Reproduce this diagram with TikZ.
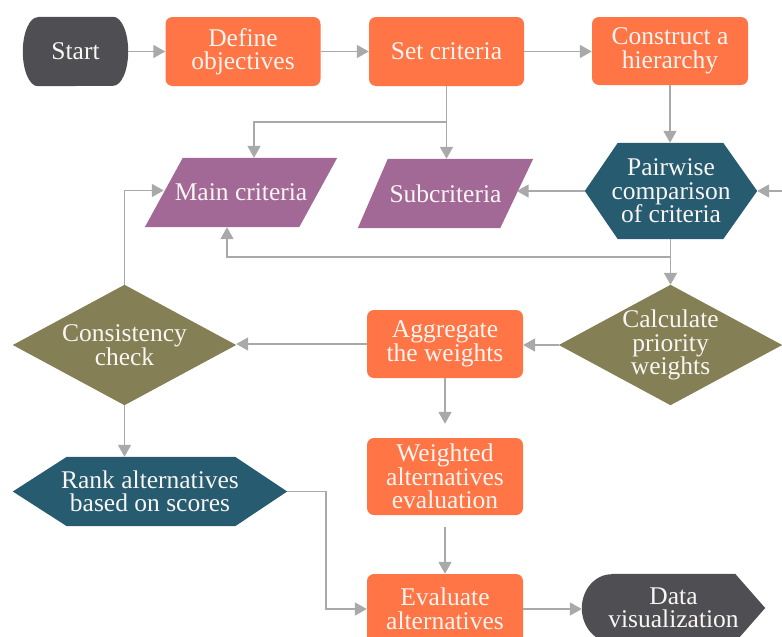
\documentclass[tikz,border=0pt]{standalone}
\usepackage{fontspec}
\setmainfont{Liberation Serif}
\usetikzlibrary{arrows.meta,backgrounds}

\definecolor{orng}{HTML}{FF7545}
\definecolor{dkgray}{HTML}{4E4E53}
\definecolor{purp}{HTML}{A26896}
\definecolor{tealc}{HTML}{265B70}
\definecolor{olive}{HTML}{857F55}
\definecolor{linec}{HTML}{A9A9A9}
\definecolor{txt}{HTML}{F8F5F2}

\tikzset{
  lbl/.style={text=txt, align=center, inner sep=0pt,
    font=\fontsize{25.5}{23.5}\selectfont},
  box/.style={lbl, fill=orng, rounded corners=7pt},
  arr/.style={draw=linec, line width=1.8pt,
    -{Triangle[length=12pt, width=13pt]}},
}

\begin{document}
\begin{tikzpicture}[x=1pt, y=-1pt]
\useasboundingbox (0,0) rectangle (782,637);
\clip (0,0) rectangle (782,637);

% ---- nodes (centre, width, height) ----
\node[lbl, minimum width=105, minimum height=69] (start) at (75.5,51.5) {Start};
\node[box, minimum width=155, minimum height=69] (def) at (243,51.5) {Define\\objectives};
\node[box, minimum width=155, minimum height=69] (setc) at (446.5,51.5) {Set criteria};
\node[box, minimum width=156, minimum height=68] (cons) at (670,51) {Construct a\\hierarchy};

\node[lbl, minimum width=192, minimum height=69] (main) at (241,192.5) {Main criteria};
\node[lbl, minimum width=175, minimum height=69] (sub) at (445.5,193.5) {Subcriteria};
\node[lbl, minimum width=172, minimum height=96] (pair) at (671,191) {Pairwise\\comparison\\of criteria};

\node[lbl, minimum width=223, minimum height=120] (calc) at (670.5,345) {Calculate\\priority\\weights};
\node[box, minimum width=156, minimum height=68] (agg) at (445,344) {Aggregate\\the weights};
\node[lbl, minimum width=223, minimum height=120] (chk) at (124.5,345) {Consistency\\check};

\node[lbl, minimum width=274, minimum height=69] (rank) at (150,491.5) {Rank alternatives\\based on scores};
\node[box, minimum width=156, minimum height=77] (wei) at (445,476.5) {Weighted\\alternatives\\evaluation};
\node[box, minimum width=156, minimum height=70] (eval) at (445,609) {Evaluate\\alternatives};
\node[lbl, minimum width=183, minimum height=68] (data) at (673.5,608) {Data\\visualization};

% ---- shape bodies behind the labels ----
\begin{scope}[on background layer]
  % terminator with curved sides
  \fill[dkgray] ([xshift=15pt]start.north west) -- ([xshift=-15pt]start.north east)
    arc[start angle=90, end angle=-90, x radius=15pt, y radius=34.5pt]
    -- ([xshift=15pt]start.south west)
    arc[start angle=270, end angle=90, x radius=15pt, y radius=34.5pt] -- cycle;
  % data (parallelograms)
  \fill[purp] ([xshift=38pt]main.north west) -- (main.north east)
    -- ([xshift=-38pt]main.south east) -- (main.south west) -- cycle;
  \fill[purp] ([xshift=30pt]sub.north west) -- (sub.north east)
    -- ([xshift=-33pt]sub.south east) -- (sub.south west) -- cycle;
  % preparation hexagons
  \fill[tealc] (pair.west) -- ([xshift=33pt]pair.north west) -- ([xshift=-34pt]pair.north east)
    -- (pair.east) -- ([xshift=-34pt]pair.south east) -- ([xshift=33pt]pair.south west) -- cycle;
  \fill[tealc] (rank.west) -- ([xshift=54pt]rank.north west) -- ([xshift=-52pt]rank.north east)
    -- (rank.east) -- ([xshift=-52pt]rank.south east) -- ([xshift=54pt]rank.south west) -- cycle;
  % decisions
  \fill[olive] (calc.west) -- (calc.north) -- (calc.east) -- (calc.south) -- cycle;
  \fill[olive] (chk.west) -- (chk.north) -- (chk.east) -- (chk.south) -- cycle;
  % display shape
  \fill[dkgray] ([xshift=30pt]data.north west) -- ([xshift=-30pt]data.north east)
    -- (data.east) -- ([xshift=-30pt]data.south east) -- ([xshift=30pt]data.south west)
    arc[start angle=270, end angle=90, x radius=30pt, y radius=34pt] -- cycle;
\end{scope}

% ---- connectors ----
\coordinate (j1) at (446.5,122);
\coordinate (j2) at (670,257);
\coordinate (rin) at (782,191);
\coordinate (subr) at ([xshift=-16.5pt]sub.east);

\draw[arr] (start.east) -- (def.west);
\draw[arr] (def.east) -- (setc.west);
\draw[arr] (setc.east) -- (setc.east -| cons.west);
\draw[arr] (setc.south) -- (sub.north -| setc.south);
\draw[arr] (j1) -| ([xshift=13pt]main.north);
\draw[arr] (cons.south) -- (pair.north -| cons.south);
\draw[arr] (rin) -- (pair.east);
\draw[arr] (pair.west) -- (pair.west -| subr);
\draw[arr] (pair.south -| calc.north) -- (calc.north);
\draw[arr] (j2) -| ([xshift=-14pt]main.south);
\draw[arr] (calc.west) -- (calc.west -| agg.east);
\draw[arr] (agg.west) -- (agg.west -| chk.east);
\draw[arr] (chk.north) |- ([xshift=19pt, yshift=2pt]main.west);
\draw[arr] (chk.south) -- (rank.north -| chk.south);
\draw[arr] (agg.south) -- ([yshift=14pt]wei.north);
\draw[arr] ([yshift=-12pt]wei.south) -- (eval.north);
\draw[arr] (rank.east) -- ++(39,0) |- (eval.west);
\draw[arr] (eval.east) -- (eval.east -| data.west);
\end{tikzpicture}
\end{document}
